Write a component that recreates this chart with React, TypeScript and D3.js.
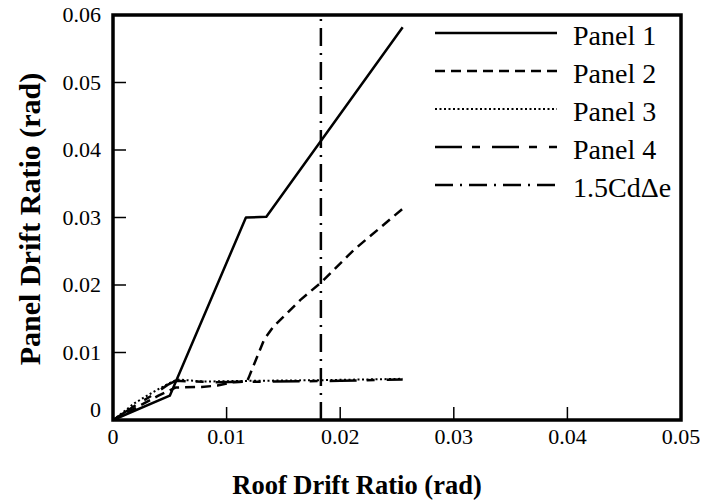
import React from "react";
import * as d3 from "d3";

// Roof drift ratio (x) vs panel drift ratio (y)
const panel1X = [0, 0.005, 0.0117, 0.0135, 0.0255];
const panel1Y = [0, 0.0036, 0.03, 0.0301, 0.0582];

const panel2X = [0, 0.002, 0.004, 0.0055, 0.0078, 0.0092, 0.0105, 0.0118, 0.012, 0.0126, 0.0133, 0.0141, 0.0165, 0.0184, 0.0212, 0.0255];
const panel2Y = [0, 0.0018, 0.0036, 0.0048, 0.0049, 0.0051, 0.0056, 0.0057, 0.0065, 0.009, 0.0119, 0.0138, 0.0178, 0.0205, 0.0252, 0.0313];

const panel3X = [0, 0.0019, 0.0034, 0.005, 0.0057, 0.008, 0.012, 0.0183, 0.0255];
const panel3Y = [0, 0.0025, 0.004, 0.0055, 0.006, 0.0057, 0.0058, 0.0059, 0.0061];

const panel4X = [0, 0.002, 0.0036, 0.0048, 0.0055, 0.009, 0.014, 0.02, 0.0255];
const panel4Y = [0, 0.0022, 0.0038, 0.0052, 0.0058, 0.0056, 0.0057, 0.0058, 0.006];

const limitX = 0.0183; // 1.5CdΔe

const xTicks = [0, 0.01, 0.02, 0.03, 0.04, 0.05];
const yTicks = [0, 0.01, 0.02, 0.03, 0.04, 0.05, 0.06];

const seriesNames = ["Panel 1", "Panel 2", "Panel 3", "Panel 4", "1.5Cd\u0394e"];
const dashes = ["", "10,6", "2,2.5", "27,10,8,12", "18,7,2,7"];
const widths = [2.5, 2.5, 2, 2.5, 2.5];

const W = 704;
const H = 501;
const left = 113;
const right = 681;
const top = 15;
const bottom = 420;

const font = "'Liberation Serif', 'Times New Roman', serif";

export default function App() {
  const x = d3.scaleLinear().domain([0, 0.05]).range([left, right]);
  const y = d3.scaleLinear().domain([0, 0.06]).range([bottom, top]);

  const line = d3
    .line<[number, number]>()
    .x(d => x(d[0]))
    .y(d => y(d[1]));

  const zip = (xs: number[], ys: number[]) => xs.map((v, i) => [v, ys[i]] as [number, number]);
  const series = [
    zip(panel1X, panel1Y),
    zip(panel2X, panel2Y),
    zip(panel3X, panel3Y),
    zip(panel4X, panel4Y),
    [[limitX, 0], [limitX, 0.06]] as [number, number][],
  ];

  const legX1 = 435;
  const legX2 = 557;
  const legY0 = 33;
  const legStep = 38;

  return (
    <svg
      width={W}
      height={H}
      style={{ position: "absolute", left: 0, top: 0, background: "#fff" }}
    >
      {/* ticks, inward */}
      {xTicks.slice(1, -1).map(t => (
        <line key={"xt" + t} x1={x(t)} x2={x(t)} y1={bottom} y2={bottom - 13} stroke="#000" strokeWidth={1.5} />
      ))}
      {yTicks.slice(1, -1).map(t => (
        <line key={"yt" + t} x1={left} x2={left + 13} y1={y(t)} y2={y(t)} stroke="#000" strokeWidth={1.5} />
      ))}

      {/* data lines */}
      {series.map((s, i) => (
        <path
          key={"s" + i}
          d={line(s) || ""}
          fill="none"
          stroke="#000"
          strokeWidth={widths[i]}
          strokeDasharray={dashes[i] || undefined}
          strokeLinejoin="round"
        />
      ))}

      {/* legend */}
      {seriesNames.map((name, i) => (
        <g key={"lg" + i}>
          <line
            x1={legX1}
            x2={legX2}
            y1={legY0 + i * legStep}
            y2={legY0 + i * legStep}
            stroke="#000"
            strokeWidth={widths[i]}
            strokeDasharray={dashes[i] || undefined}
          />
          <text x={573} y={legY0 + i * legStep + 12} fontFamily={font} fontSize={28} fill="#000">
            {name}
          </text>
        </g>
      ))}

      {/* frame */}
      <rect x={left} y={top} width={right - left} height={bottom - top} fill="none" stroke="#000" strokeWidth={3.5} />

      {/* tick labels */}
      {xTicks.map(t => (
        <text key={"xl" + t} x={x(t)} y={444} textAnchor="middle" fontFamily={font} fontSize={22}>
          {t === 0 ? "0" : d3.format(".2f")(t)}
        </text>
      ))}
      {yTicks.map(t => (
        <text
          key={"yl" + t}
          x={101}
          y={t === 0 ? y(t) - 3 : y(t) + 7}
          textAnchor="end"
          fontFamily={font}
          fontSize={22}
        >
          {t === 0 ? "0" : d3.format(".2f")(t)}
        </text>
      ))}

      {/* axis titles */}
      <text x={357} y={494} textAnchor="middle" fontFamily={font} fontSize={26.5} fontWeight="bold">
        Roof Drift Ratio (rad)
      </text>
      <text
        transform={`translate(40, 219) rotate(-90)`}
        textAnchor="middle"
        fontFamily={font}
        fontSize={30}
        fontWeight="bold"
      >
        Panel Drift Ratio (rad)
      </text>
    </svg>
  );
}
